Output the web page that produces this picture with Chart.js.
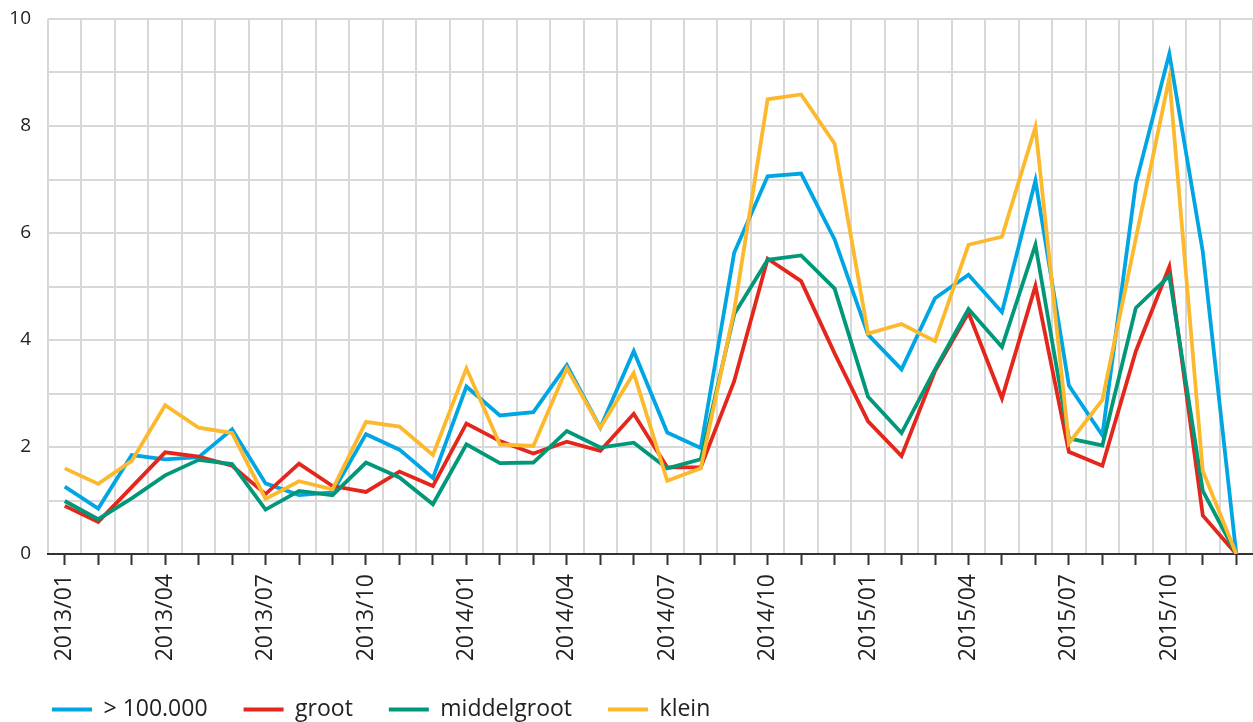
<!DOCTYPE html>
<html>
<head>
<meta charset="utf-8">
<script src="https://cdn.jsdelivr.net/npm/chart.js@4.4.1/dist/chart.umd.min.js"></script>
<style>
  html, body { margin: 0; padding: 0; background: #ffffff; }
  #wrap { width: 1253px; height: 722px; position: relative; }
</style>
</head>
<body>
<div id="wrap"><canvas id="c"></canvas></div>
<script>
const months = [
  "2013/01","2013/02","2013/03","2013/04","2013/05","2013/06","2013/07","2013/08","2013/09","2013/10","2013/11","2013/12",
  "2014/01","2014/02","2014/03","2014/04","2014/05","2014/06","2014/07","2014/08","2014/09","2014/10","2014/11","2014/12",
  "2015/01","2015/02","2015/03","2015/04","2015/05","2015/06","2015/07","2015/08","2015/09","2015/10","2015/11","2015/12"
];
const seriesNames = ["> 100.000", "groot", "middelgroot", "klein"];
const zeerGroot = [1.26,0.85,1.85,1.77,1.81,2.33,1.32,1.10,1.15,2.24,1.95,1.42,
                   3.13,2.59,2.65,3.53,2.36,3.79,2.27,1.98,5.63,7.06,7.11,5.88,
                   4.10,3.45,4.78,5.22,4.52,6.98,3.15,2.22,6.93,9.35,5.65,0];
const groot = [0.90,0.60,1.25,1.90,1.82,1.65,1.12,1.69,1.27,1.16,1.54,1.27,
               2.44,2.11,1.88,2.10,1.93,2.62,1.62,1.62,3.23,5.52,5.10,3.75,
               2.48,1.83,3.42,4.51,2.91,5.01,1.91,1.65,3.79,5.37,0.72,0];
const middelgroot = [0.99,0.65,1.04,1.47,1.76,1.68,0.83,1.18,1.10,1.71,1.43,0.93,
                     2.05,1.70,1.71,2.30,1.99,2.08,1.60,1.77,4.48,5.50,5.58,4.96,
                     2.94,2.26,3.45,4.58,3.87,5.78,2.16,2.03,4.60,5.20,1.18,0];
const klein = [1.60,1.31,1.74,2.78,2.36,2.26,1.03,1.36,1.21,2.47,2.38,1.85,
               3.47,2.05,2.02,3.47,2.36,3.38,1.37,1.60,4.55,8.50,8.59,7.67,
               4.12,4.30,3.98,5.78,5.93,7.98,2.07,2.88,5.90,8.90,1.55,0];
const yTicks = [0, 2, 4, 6, 8, 10];

const colors = ["#00A6E4", "#E3271D", "#009879", "#FDB92D"];
const values = [zeerGroot, groot, middelgroot, klein];

const datasets = values.map((v, i) => ({
  label: seriesNames[i],
  data: v,
  borderColor: colors[i],
  backgroundColor: colors[i],
  borderWidth: 3.8,
  pointRadius: 0,
  pointHoverRadius: 0,
  tension: 0,
  fill: false,
  order: values.length - i
}));

const FONT = "'Open Sans', 'Noto Sans', sans-serif";

const legendShift = {
  id: 'legendShift',
  afterLayout(chart) {
    if (chart.legend) { chart.legend.left += 8; chart.legend.right += 8; }
  }
};

new Chart(document.getElementById('c'), {
  type: 'line',
  data: { labels: months, datasets },
  plugins: [legendShift],
  options: {
    responsive: true,
    maintainAspectRatio: false,
    animation: false,
    events: [],
    layout: { padding: { left: 8, right: 0, top: 19, bottom: -9 } },
    plugins: {
      tooltip: { enabled: false },
      legend: {
        position: 'bottom',
        align: 'start',
        labels: {
          boxWidth: 40,
          boxHeight: 4,
          padding: 36,
          color: '#222222',
          font: { family: FONT, size: 23 },
          sort: (a, b) => a.datasetIndex - b.datasetIndex,
          generateLabels: (chart) => {
            const items = Chart.defaults.plugins.legend.labels.generateLabels(chart);
            items.forEach(it => { it.lineWidth = 0; it.strokeStyle = 'rgba(0,0,0,0)'; });
            return items;
          }
        }
      }
    },
    scales: {
      x: {
        type: 'category',
        position: 'bottom',
        offset: true,
        afterFit: (scale) => { scale.paddingRight = 0; scale.height = 108; },
        grid: {
          display: true,
          drawOnChartArea: false,
          drawTicks: true,
          tickLength: 11,
          tickColor: '#333333',
          tickWidth: 2,
          offset: false
        },
        border: { display: true, color: '#333333', width: 2 },
        ticks: {
          autoSkip: false,
          maxRotation: 90,
          minRotation: 90,
          padding: 9,
          color: '#222222',
          font: { family: FONT, size: 23 },
          callback: function(val, idx) { return idx % 3 === 0 ? months[idx] : ''; }
        }
      },
      x2: {
        type: 'category',
        position: 'top',
        offset: true,
        grid: {
          display: true,
          drawOnChartArea: true,
          drawTicks: false,
          tickLength: 0,
          offset: true,
          color: '#d8d8d8',
          lineWidth: 2
        },
        border: { display: false },
        ticks: { display: false }
      },
      y: {
        min: 0,
        max: 10,
        grid: { color: '#d8d8d8', lineWidth: 2, drawTicks: false },
        border: { display: false },
        afterFit: (scale) => { scale.width = 40; scale.paddingTop = 0; scale.paddingBottom = 0; },
        ticks: {
          stepSize: 1,
          padding: 17,
          color: '#222222',
          font: { family: FONT, size: 19 },
          callback: (v) => yTicks.includes(v) ? String(v) : ''
        }
      }
    }
  }
});
</script>
</body>
</html>
